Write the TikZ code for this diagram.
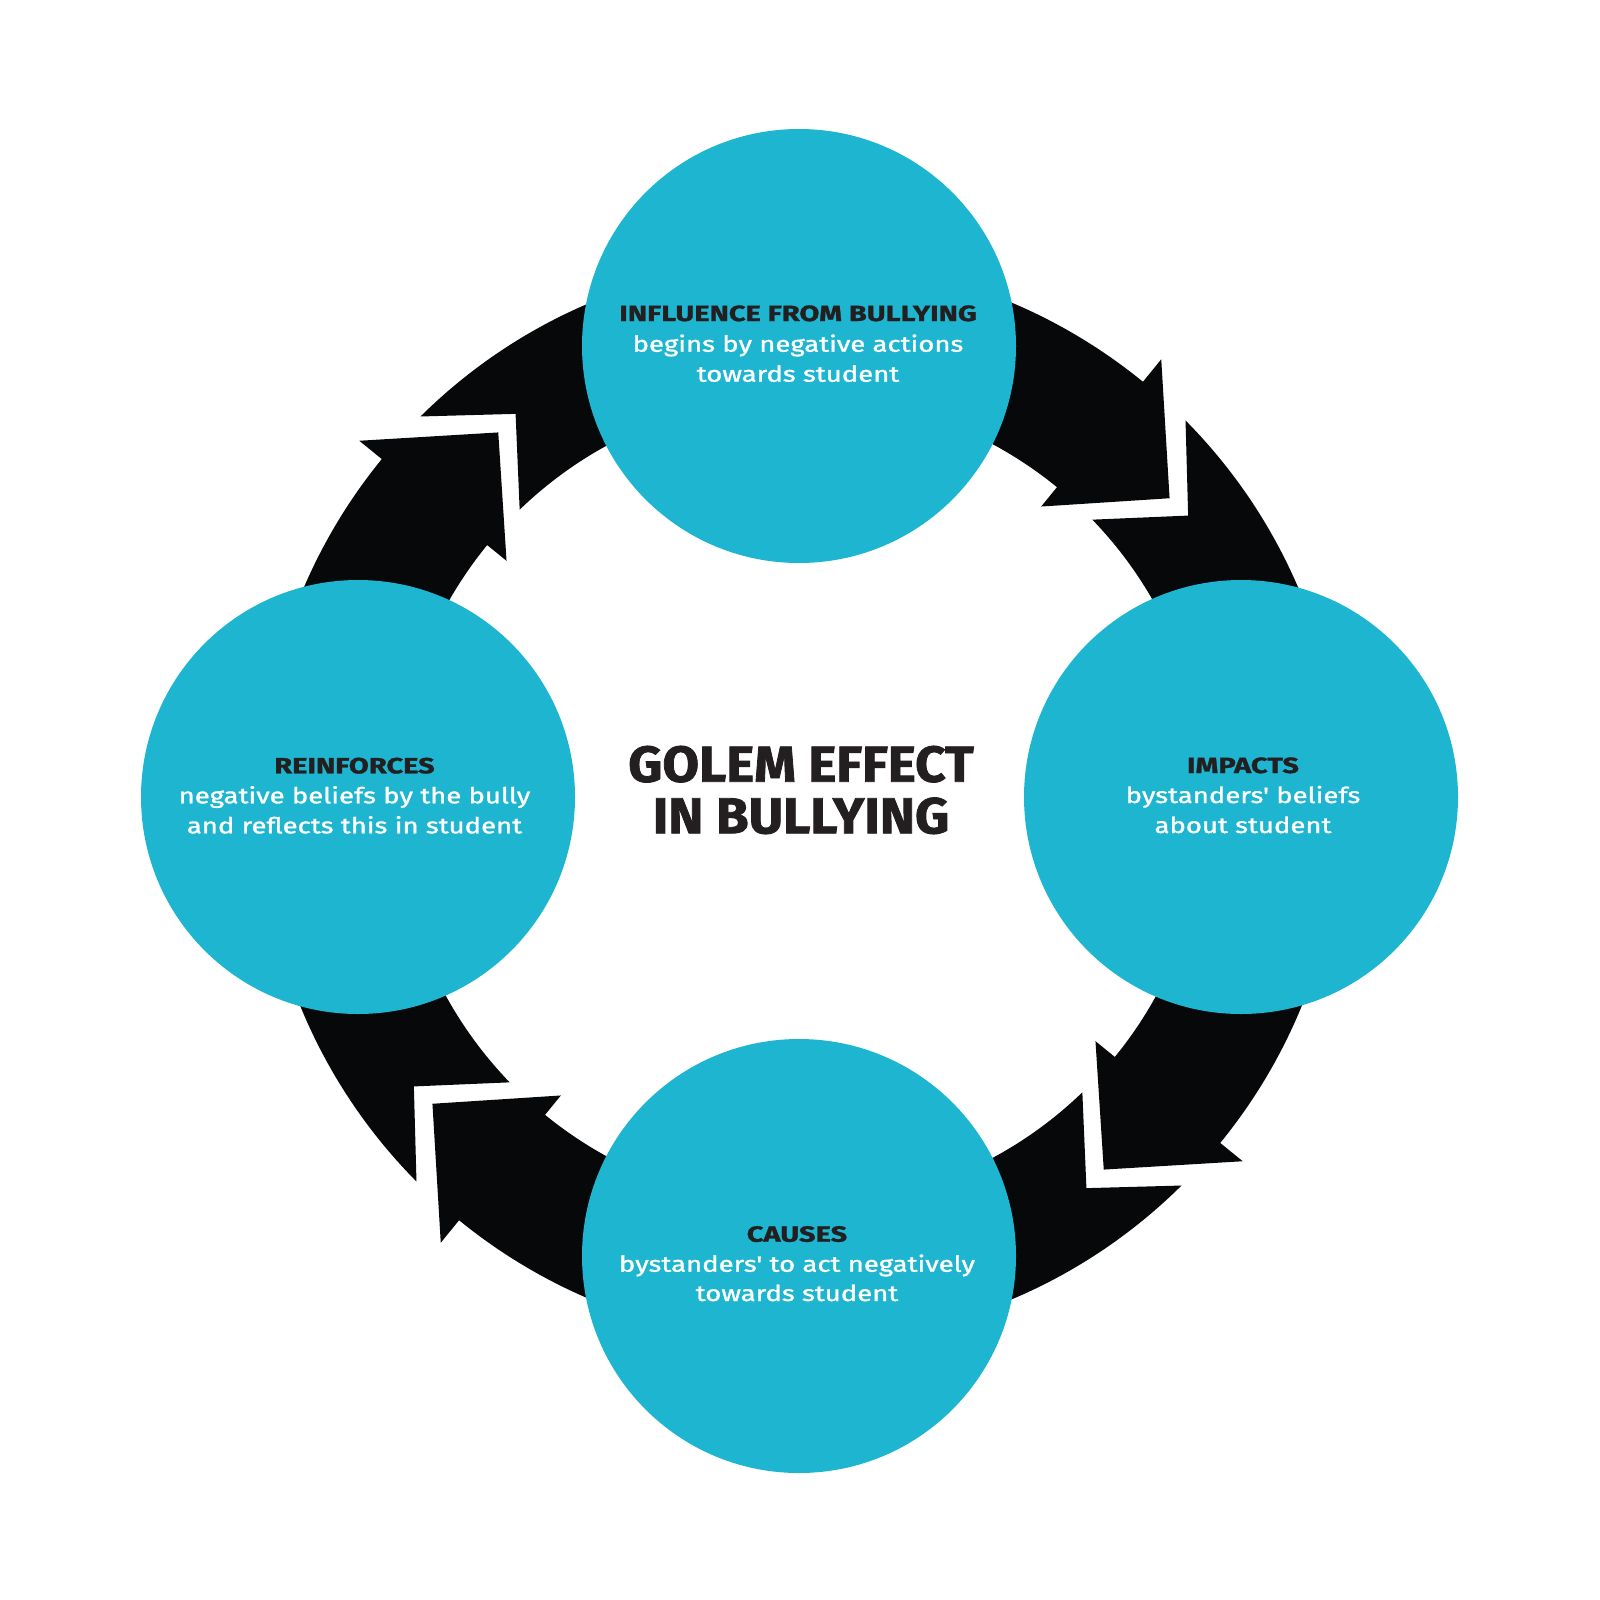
\documentclass[tikz,border=0pt]{standalone}
\usepackage{fontspec}
\setmainfont{Fira Sans}
\newfontfamily\hdfont{Fira Sans}[UprightFont={* Bold}, UprightFeatures={FakeBold=1.3, FakeStretch=1.32}]
\newfontfamily\ttlfont{Fira Sans}[UprightFont={* Bold}, UprightFeatures={FakeBold=1.6, FakeStretch=1.05}]
\newfontfamily\bdfont{Fira Sans}[UprightFeatures={FakeBold=1.3, FakeStretch=1.25}]
\definecolor{circcol}{HTML}{1DB5D0}
\definecolor{ringblack}{HTML}{060809}
\definecolor{hdtext}{HTML}{231F20}
\tikzset{
  bubble/.style={circle, fill=circcol, draw=none, inner sep=0pt, minimum size=434pt},
  hd/.style={anchor=base, text=hdtext, font=\hdfont\fontsize{22}{26}\selectfont, inner sep=0pt},
  bd/.style={anchor=base, text=white, font=\bdfont\fontsize{22}{26}\selectfont, inner sep=0pt},
  ttl/.style={anchor=base, text=hdtext, font=\ttlfont\fontsize{50.5}{56}\selectfont, inner sep=0pt},
  ringfill/.style={fill=ringblack}
}
\begin{document}
\begin{tikzpicture}[x=1pt,y=-1pt]
\useasboundingbox (0,0) rectangle (1600,1600);
\begin{scope}[shift={(801,801)}]
\foreach \J in {-45,45,135,225}{
  \fill[ringfill] (\J+0.3:541) -- (\J+8.6:481) -- (\J+1.0:405)
    arc[start angle=\J+1.0, end angle=\J+84.2, radius=405]
    -- (\J+84.2:380) -- (\J+95.6:477) -- (\J+84.2:570) -- (\J+84.2:541)
    arc[start angle=\J+84.2, end angle=\J+0.3, radius=541] -- cycle;
}
\end{scope}
\node[bubble] (ctop) at (799,346) {};
\node[bubble] (cright) at (1241,797) {};
\node[bubble] (cbottom) at (799,1256) {};
\node[bubble] (cleft) at (358,797) {};
% top
\node[hd] (th) at (798,321) {INFLUENCE FROM BULLYING};
\node[bd] (ta) at (798,351.7) {begins by negative actions};
\node[bd] (tb) at (798,381.7) {towards student};
% right
\node[hd] (rh) at (1243,773) {IMPACTS};
\node[bd] (ra) at (1243,803) {bystanders' beliefs};
\node[bd] (rb) at (1243,833) {about student};
% bottom
\node[hd] (bh) at (797,1241.7) {CAUSES};
\node[bd] (ba) at (797,1271.7) {bystanders' to act negatively};
\node[bd] (bb) at (797,1301) {towards student};
% left
\node[hd] (lh) at (354.5,773.3) {REINFORCES};
\node[bd] (la) at (354.5,803.3) {negative beliefs by the bully};
\node[bd] (lb) at (354.5,833.3) {and reflects this in student};
% title
\node[ttl] (title1) at (801,781.7) {GOLEM EFFECT};
\node[ttl] (title2) at (801,833.3) {IN BULLYING};
\end{tikzpicture}
\end{document}
